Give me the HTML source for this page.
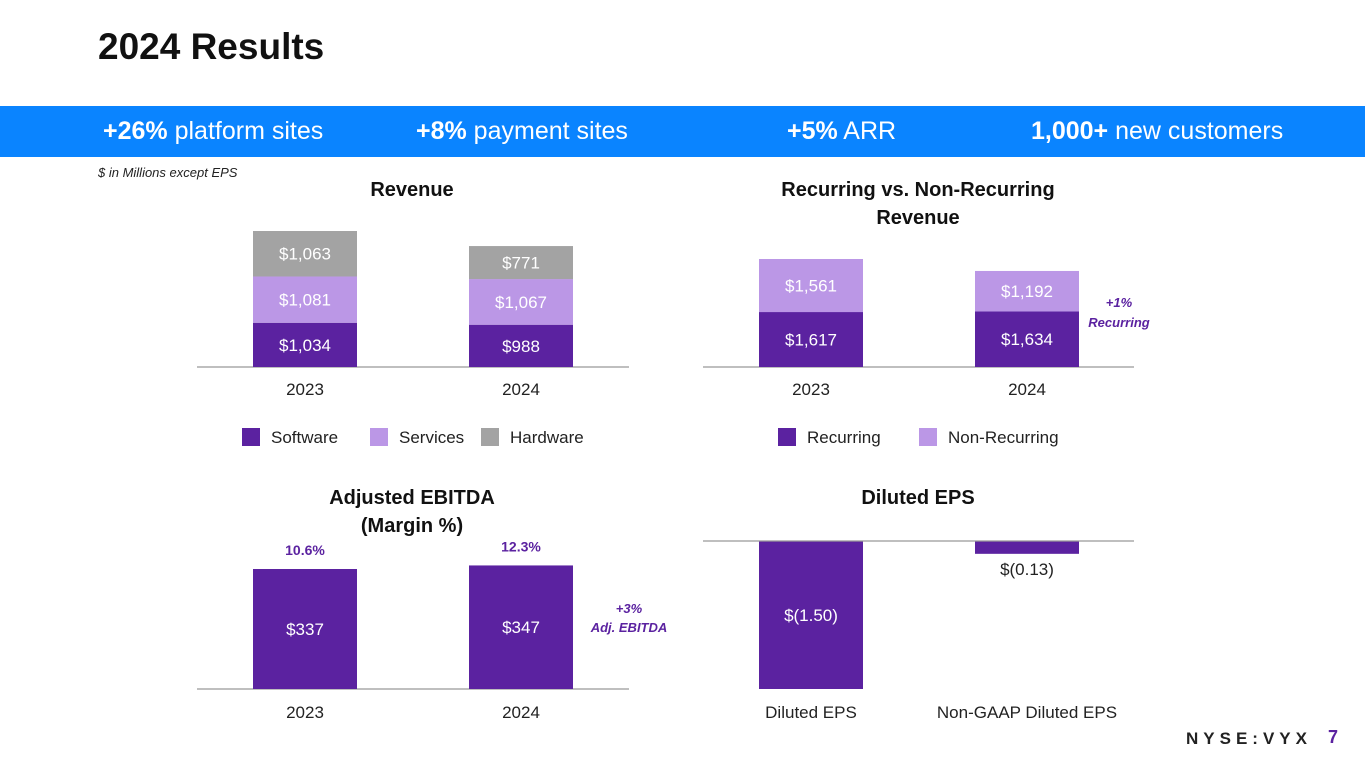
<!DOCTYPE html>
<html><head><meta charset="utf-8">
<style>
body{margin:0;width:1365px;height:768px;background:#fff;overflow:hidden;font-family:"Liberation Sans",sans-serif;position:relative}
.abs{position:absolute}
#band{left:0;top:106px;width:1365px;height:51px;background:#0A84FF;color:#fff;font-size:25px}
#band span{position:absolute;top:11px;white-space:nowrap}
svg{position:absolute;left:0;top:0}
</style></head><body>
<div class="abs" style="left:98px;top:26px;font-size:37px;font-weight:bold;color:#111">2024 Results</div>
<div id="band" class="abs">
<span style="left:103px"><b>+26%</b> platform sites</span>
<span style="left:416px"><b>+8%</b> payment sites</span>
<span style="left:787px"><b>+5%</b> ARR</span>
<span style="left:1031px"><b>1,000+</b> new customers</span>
</div>
<div class="abs" style="left:98px;top:165px;font-size:13px;font-style:italic;color:#222">$ in Millions except EPS</div>
<div class="abs" style="left:1186px;top:729px;font-size:17px;font-weight:bold;letter-spacing:5px;color:#222">NYSE:VYX</div>
<div class="abs" style="left:1328px;top:727px;font-size:18px;font-weight:bold;color:#5B22A0">7</div>
<svg id="chart" width="1365" height="768"></svg>
<script>
const revYears=["2023","2024"];
const revSoftware=[1034,988];
const revServices=[1081,1067];
const revHardware=[1063,771];
const recRecurring=[1617,1634];
const recNonRecurring=[1561,1192];
const ebitdaVals=[337,347];
const ebitdaMargins=["10.6%","12.3%"];
const epsCats=["Diluted EPS","Non-GAAP Diluted EPS"];
const epsVals=[-1.50,-0.13];
const epsLabels=["$(1.50)","$(0.13)"];

const DARK="#5B22A0",LIGHT="#BB97E6",GRAY="#A3A3A3";
const svg=document.getElementById('chart');
const NS="http://www.w3.org/2000/svg";
function el(t,a,txt){const e=document.createElementNS(NS,t);for(const k in a)e.setAttribute(k,a[k]);if(txt!==undefined)e.textContent=txt;svg.appendChild(e);return e;}
function text(x,y,s,opts){opts=opts||{};return el('text',{x:x,y:y,'text-anchor':opts.anchor||'middle','font-size':opts.size||17,fill:opts.fill||'#222','font-weight':opts.weight||'normal','font-style':opts.italic?'italic':'normal','font-family':'Liberation Sans, sans-serif'},s);}
function fmt(v){return '$'+v.toLocaleString('en-US');}

function stacked(xs,base,scale,series,colors,names,labelFill){
  for(let i=0;i<xs.length;i++){
    let y=base;
    series.forEach((s,k)=>{
      const h=s[i]*scale;
      const r=el('rect',{x:xs[i],y:y-h,width:104,height:h,fill:colors[k]});
      
      
      const t=text(xs[i]+52,y-h/2+6,fmt(s[i]),{fill:labelFill[k]});
      
      
      y-=h;
    });
  }
}
function axis(x1,x2,y){const l=el('line',{x1:x1,x2:x2,y1:y,y2:y,stroke:'#999','stroke-width':1.2});}
function legend(items,y){items.forEach(it=>{const r=el('rect',{x:it[0],y:y-9,width:18,height:18,fill:it[2]});const t=text(it[0]+29,y+6,it[1],{anchor:'start'});});}

text(412,196,'Revenue',{size:20,weight:'bold',fill:'#111'});
const revX=[253,469];
axis(197,629,367);
stacked(revX,367,136/3178,[revSoftware,revServices,revHardware],[DARK,LIGHT,GRAY],['bar-software','bar-services','bar-hardware'],['#fff','#fff','#fff']);
revYears.forEach((y,i)=>{const t=text(revX[i]+52,395,y);});
legend([[242,'Software',DARK],[370,'Services',LIGHT],[481,'Hardware',GRAY]],437);

text(918,196,'Recurring vs. Non-Recurring',{size:20,weight:'bold',fill:'#111'});
text(918,224,'Revenue',{size:20,weight:'bold',fill:'#111'});
const recX=[759,975];
axis(703,1134,367);
stacked(recX,367,108/3178,[recRecurring,recNonRecurring],[DARK,LIGHT],['bar-recurring','bar-nonrecurring'],['#fff','#fff']);
revYears.forEach((y,i)=>{const t=text(recX[i]+52,395,y);});
legend([[778,'Recurring',DARK],[919,'Non-Recurring',LIGHT]],437);
text(1119,307,'+1%',{size:13,weight:'bold',italic:true,fill:DARK});
text(1119,327,'Recurring',{size:13,weight:'bold',italic:true,fill:DARK});

text(412,504,'Adjusted EBITDA',{size:20,weight:'bold',fill:'#111'});
text(412,532,'(Margin %)',{size:20,weight:'bold',fill:'#111'});
axis(197,629,689);
const ebScale=120/337;
ebitdaVals.forEach((v,i)=>{const h=v*ebScale;const r=el('rect',{x:revX[i],y:689-h,width:104,height:h,fill:DARK});
text(revX[i]+52,689-h/2+6,fmt(v),{fill:'#fff'});
text(revX[i]+52,689-h-14,ebitdaMargins[i],{size:14,weight:'bold',fill:DARK});
text(revX[i]+52,718,revYears[i]);});
text(629,613,'+3%',{size:13,weight:'bold',italic:true,fill:DARK});
text(629,632,'Adj. EBITDA',{size:13,weight:'bold',italic:true,fill:DARK});

text(918,504,'Diluted EPS',{size:20,weight:'bold',fill:'#111'});
const epsScale=148/1.5;
epsVals.forEach((v,i)=>{const h=Math.abs(v)*epsScale;const r=el('rect',{x:recX[i],y:541,width:104,height:h,fill:DARK});
if(h>40)text(recX[i]+52,541+h/2+6,epsLabels[i],{fill:'#fff'});else text(recX[i]+52,541+h+21,epsLabels[i]);
text(recX[i]+52,718,epsCats[i]);});
axis(703,1134,541);
</script>
</body></html>
